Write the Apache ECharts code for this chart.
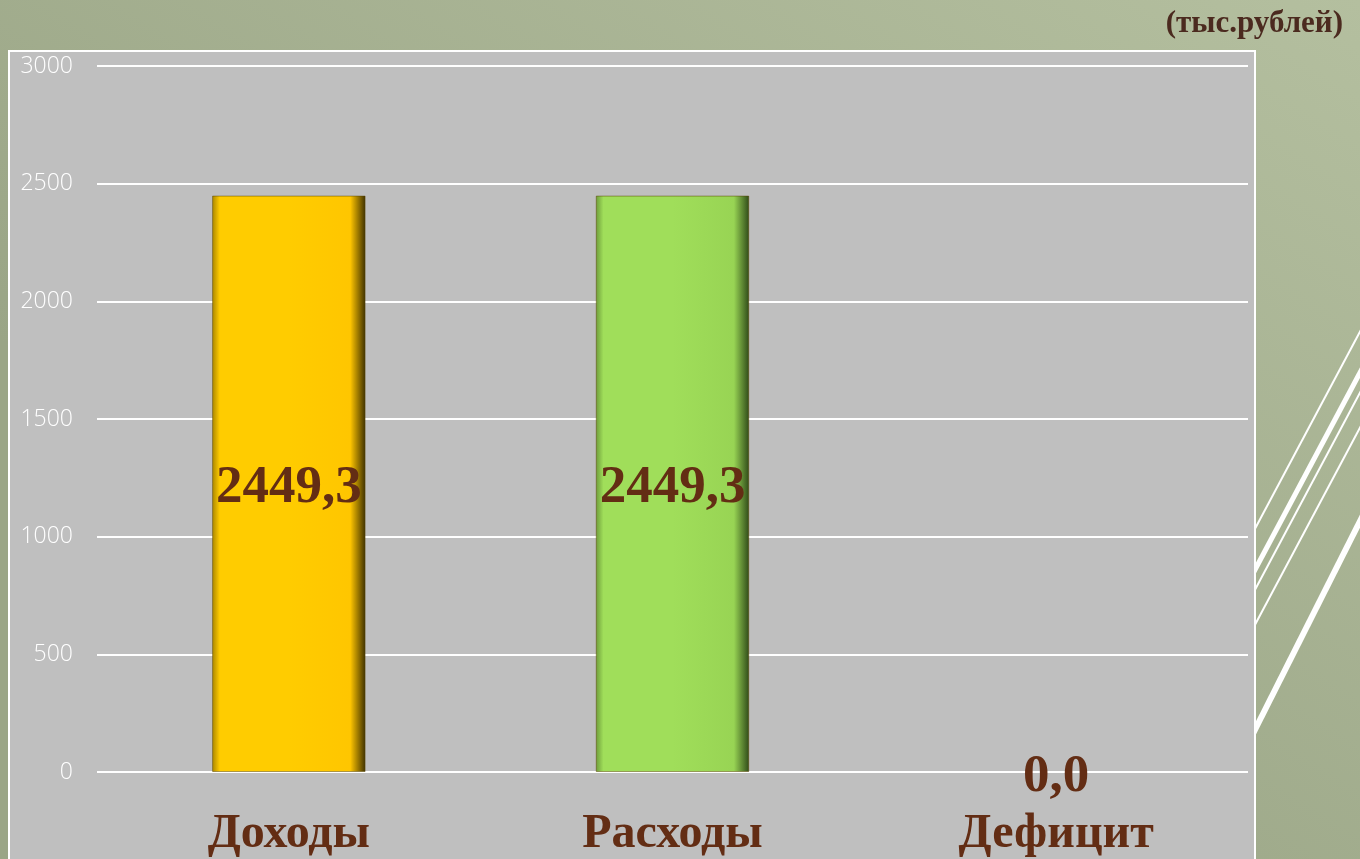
<!DOCTYPE html>
<html>
<head>
<meta charset="utf-8">
<script src="https://cdn.jsdelivr.net/npm/echarts@6/dist/echarts.min.js"></script>
<style>
	html, body {margin: 0;padding: 0;}
	#main {width: 1360px;height: 859px;}
</style>
</head>
<body>
<div id="main"></div>
<script>
	// данные бюджета (тыс.рублей)
	var categories = ['Доходы', 'Расходы', 'Дефицит'];
	var values = [2449.3, 2449.3, 0.0];
	var yTicks = [0, 500, 1000, 1500, 2000, 2500, 3000];

	var barColors = [
		['#a88400', '#ffcc00', '#ffcc00', '#ffc600', '#3d2f00'],
		['#6c9a3a', '#a0de5a', '#a0de5a', '#98d454', '#2f4a18']
	];

	function bevel(c) {
		return {
			type: 'linear', x: 0, y: 0, x2: 1, y2: 0,
			colorStops: [
				{offset: 0, color: c[0]}, {offset: 0.05, color: c[1]},
				{offset: 0.5, color: c[2]}, {offset: 0.9, color: c[3]},
				{offset: 1, color: c[4]}
			]
		};
	}

	var myChart = echarts.init(document.getElementById('main'));
	var option = {
		backgroundColor: {
			type: 'linear', x: 1, y: 0, x2: 0.6, y2: 1,
			colorStops: [{offset: 0, color: '#b4bf9f'}, {offset: 1, color: '#9aa586'}]
		},
		graphic: [
			{type: 'line', z: -10, shape: {x1: 1200, y1: 632, x2: 1420, y2: 219}, style: {stroke: '#fff', lineWidth: 2}},
			{type: 'line', z: -10, shape: {x1: 1200, y1: 673, x2: 1420, y2: 260}, style: {stroke: '#fff', lineWidth: 5}},
			{type: 'line', z: -10, shape: {x1: 1200, y1: 693, x2: 1420, y2: 280}, style: {stroke: '#fff', lineWidth: 2}},
			{type: 'line', z: -10, shape: {x1: 1200, y1: 728, x2: 1420, y2: 315}, style: {stroke: '#fff', lineWidth: 2}},
			{type: 'line', z: -10, shape: {x1: 1200, y1: 839, x2: 1420, y2: 402}, style: {stroke: '#fff', lineWidth: 6}},
			{type: 'rect', z: -5, shape: {x: 9, y: 51, width: 1246, height: 820},
				style: {fill: '#bfbfbf', stroke: '#ffffff', lineWidth: 2}},
			{type: 'text', right: 17, top: 8,
				style: {text: '(тыс.рублей)', fill: '#4b2a1f', font: 'bold 31px "Liberation Serif"'}}
		],
		grid: {left: 97, right: 112, top: 66, bottom: 86},
		xAxis: {
			type: 'category', data: categories,
			axisLine: {show: false}, axisTick: {show: false},
			axisLabel: {margin: 39, color: '#632d14', fontFamily: 'Liberation Serif', fontWeight: 'bold', fontSize: 48}
		},
		yAxis: {
			type: 'value', min: yTicks[0], max: yTicks[yTicks.length - 1], interval: 500,
			axisLine: {show: false}, axisTick: {show: false},
			axisLabel: {margin: 24, color: '#ffffff', fontFamily: 'Open Sans', fontWeight: 300, fontSize: 23,
				formatter: function (v) { return String(v); }},
			splitLine: {lineStyle: {color: '#ffffff', width: 2}}
		},
		series: [{
			type: 'bar', barWidth: '40%',
			data: values.map(function (v, i) {
				return {value: v, itemStyle: {color: bevel(barColors[i] || barColors[0]), borderColor: 'rgba(90,70,0,0.5)', borderWidth: i < 2 ? 1 : 0}};
			}),
			label: {
				show: true, position: 'inside', offset: [0, 5], color: '#632d14',
				fontFamily: 'Liberation Serif', fontWeight: 'bold', fontSize: 53,
				formatter: function (p) { return p.value.toFixed(1).replace('.', ','); }
			}
		}]
	};
	myChart.setOption(option);
</script>
</body>
</html>
